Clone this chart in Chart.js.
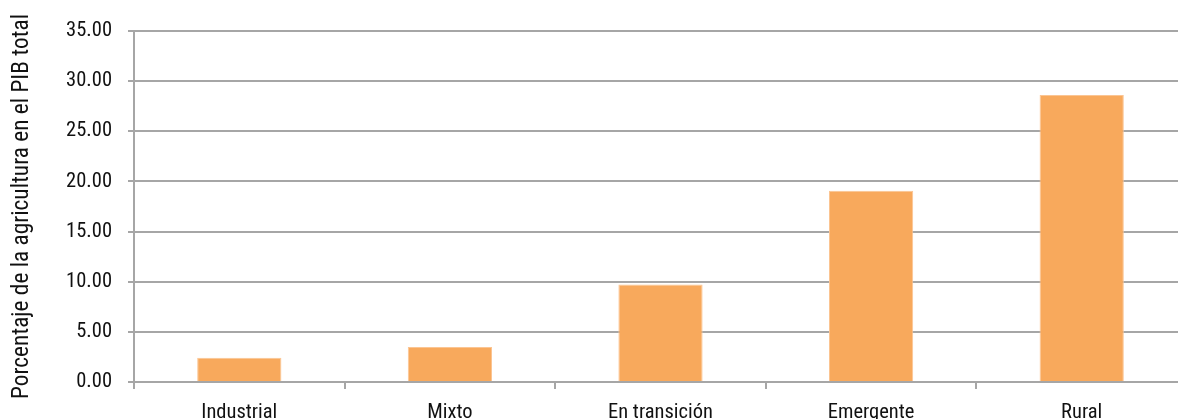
<!DOCTYPE html>
<html>
<head>
<meta charset="utf-8">
<script src="https://cdn.jsdelivr.net/npm/chart.js@4/dist/chart.umd.min.js"></script>
<style>
  html, body { margin: 0; padding: 0; background: #fff; overflow: hidden; }
  #wrap { width: 1178px; height: 419px; overflow: hidden; }
</style>
</head>
<body>
<div id="wrap"><canvas id="chart" width="1192" height="419"></canvas></div>
<script>
const categories = ['Industrial', 'Mixto', 'En transición', 'Emergente', 'Rural'];
const shareValues = [2.42, 3.48, 9.71, 19.08, 28.63];
const yTitle = 'Porcentaje de la agricultura en el PIB total';

const fontFamily = "'Roboto Condensed', 'Liberation Sans Narrow', 'DejaVu Sans Condensed', Roboto, sans-serif";
const gridColor = '#a6a6a6';

const ctx = document.getElementById('chart').getContext('2d');

// the plot runs a little past the right edge of the window, as in the original
const chart = new Chart(ctx, {
  type: 'bar',
  data: {
    labels: categories,
    datasets: [{
      data: shareValues,
      backgroundColor: '#f8a95c',
      borderColor: '#fbc593',
      borderWidth: 1,
      barPercentage: 0.4,
      categoryPercentage: 1.0
    }]
  },
  options: {
    responsive: false,
    animation: false,
    layout: { padding: { top: 31, right: 5, left: 0, bottom: 0 } },
    plugins: {
      legend: { display: false },
      tooltip: { enabled: false }
    },
    scales: {
      x: {
        grid: {
          offset: true,
          drawOnChartArea: false,
          drawTicks: true,
          tickLength: 7,
          color: gridColor,
          lineWidth: 2
        },
        border: { color: gridColor, width: 2 },
        ticks: {
          color: '#111',
          padding: 12,
          maxRotation: 0,
          font: { family: fontFamily, size: 20.5 }
        },
        afterFit: scale => { scale.height = 37; }
      },
      y: {
        min: 0,
        max: 35,
        ticks: {
          stepSize: 5,
          color: '#111',
          padding: 16,
          font: { family: fontFamily, size: 20.5 },
          callback: v => v.toFixed(2)
        },
        grid: {
          color: gridColor,
          lineWidth: 2,
          tickLength: 6
        },
        border: { color: gridColor, width: 2 },
        title: {
          display: true,
          text: yTitle,
          color: '#111',
          padding: { top: 8, bottom: 0 },
          font: { family: fontFamily, size: 23.3 }
        },
        afterFit: scale => { scale.width = 134; }
      }
    }
  }
});
</script>
</body>
</html>
